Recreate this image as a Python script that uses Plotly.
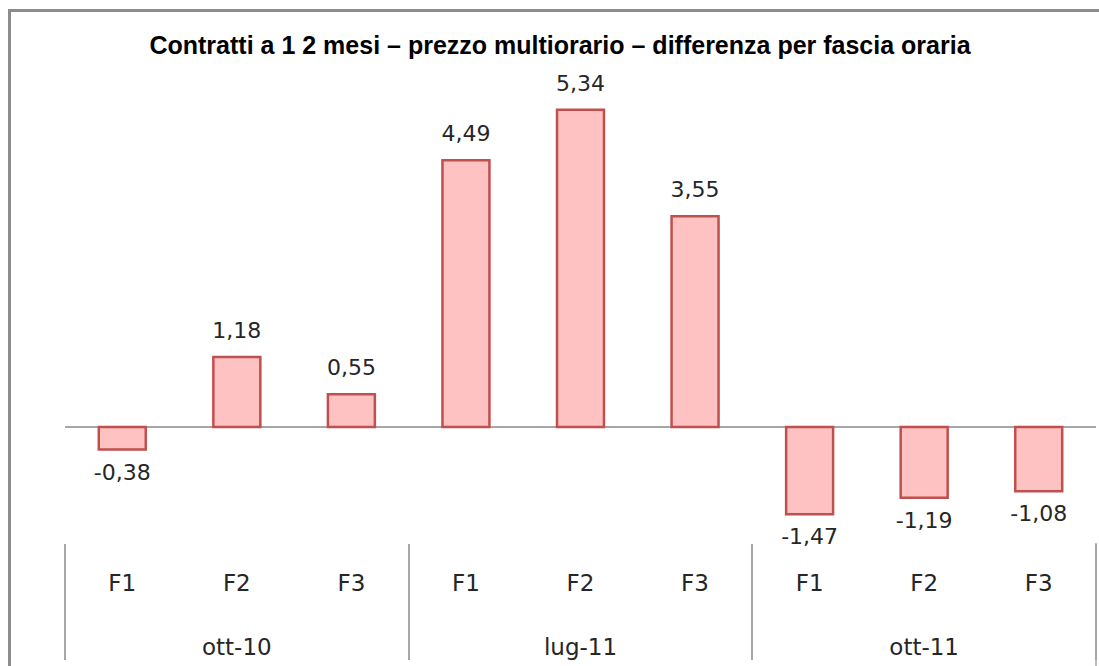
import plotly.graph_objects as go

periods = ["ott-10", "ott-10", "ott-10", "lug-11", "lug-11", "lug-11", "ott-11", "ott-11", "ott-11"]
bands = ["F1", "F2", "F3", "F1", "F2", "F3", "F1", "F2", "F3"]
values = [-0.38, 1.18, 0.55, 4.49, 5.34, 3.55, -1.47, -1.19, -1.08]
labels = [f"{v:.2f}".replace(".", ",") for v in values]
# outer labels pushed down by two blank lines to sit below the band labels
period_labels = ["<br><br>" + p for p in periods]

W, H = 1099, 666
L, R, T, B = 65, 3, 75, 123

fig = go.Figure()
fig.add_trace(go.Bar(
    x=[period_labels, bands], y=values,
    marker=dict(color="#ffc2c2", line=dict(color="#c0504d", width=2.5)),
    hoverinfo="skip", showlegend=False,
))
fig.add_trace(go.Scatter(
    x=[period_labels, bands], y=values, mode="markers+text",
    text=labels,
    textposition=["top center" if v >= 0 else "bottom center" for v in values],
    marker=dict(size=20, opacity=0),
    textfont=dict(family="DejaVu Sans", size=22, color="#262626"),
    hoverinfo="skip", showlegend=False, cliponaxis=False,
))

pw = W - L - R
ph = H - T - B
x0 = (9.5 - L) / pw
ytop = 1 + (T - 10.5) / ph
fig.add_shape(type="path", xref="paper", yref="paper",
              path=f"M {x0} -1 L {x0} {ytop} L {1 + R / pw + 0.01} {ytop}",
              line=dict(color="#8c8c8c", width=3), layer="above")
# closing divider at the right end of the category axis
fig.add_shape(type="line", xref="paper", yref="paper",
              x0=1, x1=1, y0=0, y1=-(B + 5) / ph,
              line=dict(color="#a6a6a6", width=1.5))

fig.update_layout(
    width=W, height=H,
    margin=dict(l=L, r=R, t=T, b=B, autoexpand=False),
    paper_bgcolor="white", plot_bgcolor="white",
    bargap=0.59,
    title=dict(text="<b>Contratti a 1 2 mesi – prezzo multiorario – differenza per fascia oraria</b>",
               x=560 / W, xref="container", xanchor="center",
               y=1 - 45 / H, yref="container", yanchor="middle",
               font=dict(family="Liberation Sans", size=25, color="#000000")),
    xaxis=dict(type="multicategory", range=[-0.5, 8.5], autorange=False,
               showline=False, showgrid=False, automargin=False,
               ticks="", ticklabelstandoff=24,
               showdividers=True, dividercolor="#a6a6a6", dividerwidth=1.5,
               tickfont=dict(family="DejaVu Sans", size=23, color="#262626")),
    yaxis=dict(range=[-1.953, 5.926], showgrid=False, showticklabels=False, automargin=False,
               zeroline=True, zerolinecolor="#a6a6a6", zerolinewidth=1.5, showline=False),
)

fig.write_html("out.html", config={"displayModeBar": False},
               post_script="document.body.style.margin='0';")
